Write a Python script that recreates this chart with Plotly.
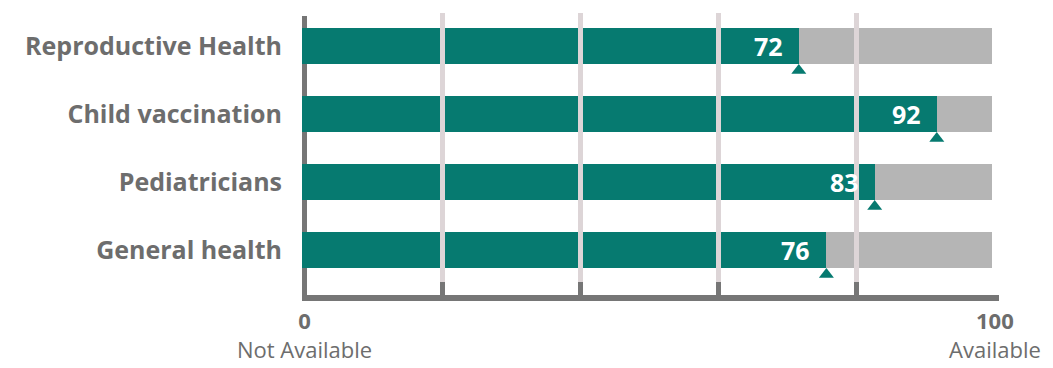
import plotly.graph_objects as go

# Availability score (0 = not available, 100 = available) per service
categories = ["Reproductive Health", "Child vaccination", "Pediatricians", "General health"]
values = [72, 92, 83, 76]
scale_max = 100
grid_ticks = [0, 20, 40, 60, 80, 100]
tick_labels = ["0", "", "", "", "", "100"]
end_labels = ["Not Available", "Available"]

TEAL = "#067a70"
REST = "#b5b5b5"
AXIS = "#767676"
GRID = "#ddd5d7"
TEXT = "#6d6d6d"
FONT = "Open Sans"

y_pos = list(range(len(categories)))
remainder = [scale_max - v for v in values]
BAR_W = 0.53

fig = go.Figure()

# filled portion
fig.add_trace(go.Bar(
    x=values, y=y_pos, orientation="h", width=BAR_W,
    marker=dict(color=TEAL, line=dict(width=0)),
    hoverinfo="skip", showlegend=False,
))
# remaining portion up to the maximum
fig.add_trace(go.Bar(
    x=remainder, y=y_pos, base=values, orientation="h", width=BAR_W,
    marker=dict(color=REST, line=dict(width=0)),
    hoverinfo="skip", showlegend=False,
))
# small pointer under the end of each filled bar
fig.add_trace(go.Scatter(
    x=values, y=[p + BAR_W / 2 + 0.095 for p in y_pos], mode="markers",
    marker=dict(symbol="triangle-up", size=13, color=TEAL, line=dict(width=0)),
    hoverinfo="skip", showlegend=False, cliponaxis=False,
))

# value labels inside the bar end
for p, v in zip(y_pos, values):
    fig.add_annotation(
        x=v, y=p, text=f"<b>{v}</b>", showarrow=False,
        xanchor="right", yanchor="middle", xshift=-14,
        font=dict(family=FONT, size=25, color="white"),
    )

# vertical guide lines drawn over the bars, stopping at the tick marks
for t in grid_ticks[1:]:
    fig.add_shape(
        type="line", xref="x", yref="paper",
        xsizemode="pixel", xanchor=t, x0=2.5, x1=2.5,
        y0=12 / 282, y1=1.0,
        line=dict(color=GRID, width=5), layer="above",
    )

# tick marks standing on the baseline
for t in grid_ticks:
    fig.add_shape(
        type="line", xref="x", yref="paper",
        xsizemode="pixel", xanchor=t, x0=2.5, x1=2.5,
        y0=0, y1=13 / 282,
        line=dict(color=AXIS, width=5), layer="above",
    )

# bottom baseline
fig.add_shape(
    type="line", xref="paper", yref="paper", x0=0, x1=697 / 690, y0=-3 / 282, y1=-3 / 282,
    line=dict(color=AXIS, width=6), layer="above",
)

# left axis line at zero, underneath the bars
fig.add_shape(
    type="line", xref="paper", yref="paper", x0=2.5 / 690, x1=2.5 / 690, y0=-6 / 282, y1=1 - 3 / 282,
    line=dict(color=AXIS, width=5), layer="below",
)

# scale number with its caption under each end of the axis
for xv, num, txt in zip([0, scale_max], [tick_labels[0], tick_labels[-1]], end_labels):
    xp = (xv / scale_max) + 2.5 / 690
    fig.add_annotation(
        x=xp, y=0, xref="paper", yref="paper",
        text=f"<b>{num}</b><br>{txt}", showarrow=False, align="center",
        xanchor="center", yanchor="top", yshift=-8,
        font=dict(family=FONT, size=22, color=TEXT),
    )

fig.update_layout(
    width=1053, height=368,
    margin=dict(l=302, r=61, t=13, b=73),
    paper_bgcolor="white", plot_bgcolor="white",
    barmode="overlay", bargap=0,
    font=dict(family=FONT, color=TEXT),
)
fig.update_xaxes(
    range=[0, scale_max], showticklabels=False, ticks="",
    showgrid=False, showline=False, zeroline=False, fixedrange=True,
)
fig.update_yaxes(
    range=[3.662, -0.485], tickvals=y_pos,
    ticktext=[f"<b>{c}</b>" for c in categories],
    ticks="", showgrid=False, zeroline=False, showline=False,
    ticklabelstandoff=19,
    tickfont=dict(family=FONT, size=25, color=TEXT),
    fixedrange=True,
)

fig.write_html("out.html")
